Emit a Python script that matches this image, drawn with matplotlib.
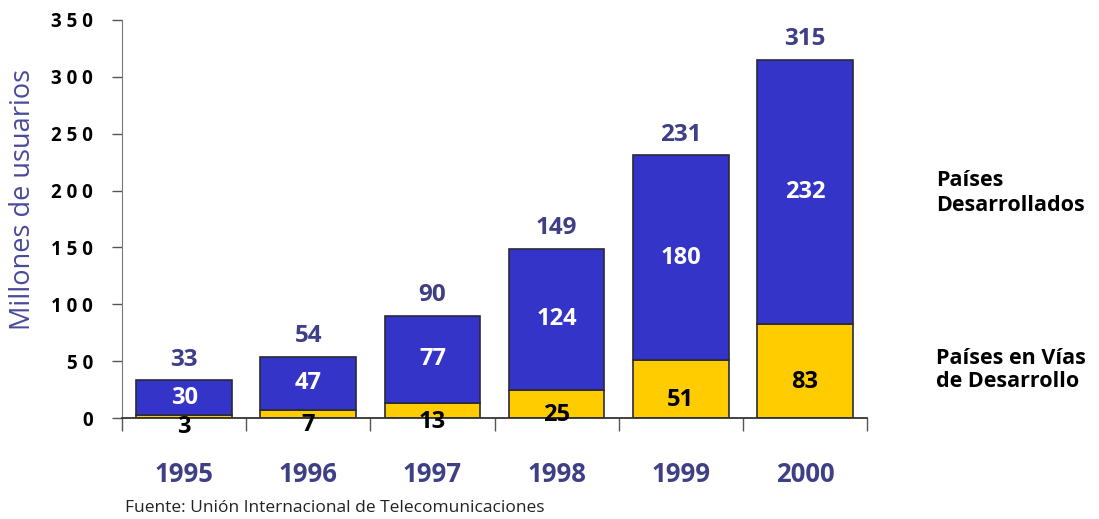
import numpy as np
import matplotlib
matplotlib.use("Agg")
import matplotlib.pyplot as plt

# Datos (millones de usuarios)
anios = ["1995", "1996", "1997", "1998", "1999", "2000"]
en_desarrollo = [3, 7, 13, 25, 51, 83]
desarrollados = [30, 47, 77, 124, 180, 232]
totales = [33, 54, 90, 149, 231, 315]
yticks = [0, 50, 100, 150, 200, 250, 300, 350]

azul = "#3434C8"
amarillo = "#FFCC00"
borde = "#2a2a3a"
azul_texto = "#3f3f86"

plt.rcParams['font.family'] = ['Open Sans', 'DejaVu Sans']

fig = plt.figure(figsize=(10.99, 5.19), dpi=100)
ax = fig.add_axes([0.111, 0.1946, 0.678, 0.767])

x = np.arange(len(anios))
ancho = 0.77
ax.bar(x, en_desarrollo, ancho, color=amarillo, edgecolor=borde, linewidth=1.2)
ax.bar(x, desarrollados, ancho, bottom=en_desarrollo, color=azul, edgecolor=borde, linewidth=1.2)

# Etiquetas de valores
for i in range(len(anios)):
    ax.annotate(str(totales[i]), (x[i], totales[i]), xytext=(0, 6), textcoords="offset points",
                ha="center", va="bottom", fontsize=17.5, fontweight="bold", color=azul_texto)
    ax.text(x[i], en_desarrollo[i] + desarrollados[i] / 2, str(desarrollados[i]),
            ha="center", va="center", fontsize=17, fontweight="bold", color="white")
    ax.annotate(str(en_desarrollo[i]), (x[i], en_desarrollo[i] / 2), xytext=(0, -8),
                textcoords="offset points", ha="center", va="center",
                fontsize=17, fontweight="bold", color="black")

ax.set_xlim(-0.5, len(anios) - 0.5)
ax.set_ylim(0, 350)

ax.set_yticks(yticks)
ax.set_yticklabels([" ".join(str(v)) for v in yticks], fontsize=13.5, fontweight="bold")
ax.tick_params(axis="y", length=7, width=1, color="#555555", pad=14)

ax.set_xticks(x)
ax.set_xticklabels(anios, fontsize=18.5, fontweight="bold", color=azul_texto)
ax.tick_params(axis="x", which="major", length=0, pad=31)
ax.set_xticks(np.arange(len(anios) + 1) - 0.5, minor=True)
ax.tick_params(axis="x", which="minor", length=9, width=1, color="#555555")

ax.spines["top"].set_visible(False)
ax.spines["right"].set_visible(False)
ax.spines["left"].set_color("#777777")
ax.spines["bottom"].set_color("#333333")
ax.spines["bottom"].set_linewidth(1.3)

ax.set_ylabel("Millones de usuarios", fontsize=19.5, color="#4a4a9a")
ax.yaxis.set_label_coords(-0.114, 0.548)

fig.text(0.852, 0.628, "Países\nDesarrollados", fontsize=15.5, fontweight="bold",
         ha="left", va="center", linespacing=1.25)
fig.text(0.852, 0.287, "Países en Vías\nde Desarrollo", fontsize=15.5, fontweight="bold",
         ha="left", va="center", linespacing=1.1)

fig.text(0.114, 0.022, "Fuente: Unión Internacional de Telecomunicaciones",
         fontsize=12.5, color="#222222", ha="left", va="center")

fig.savefig("out.png", dpi=100)
